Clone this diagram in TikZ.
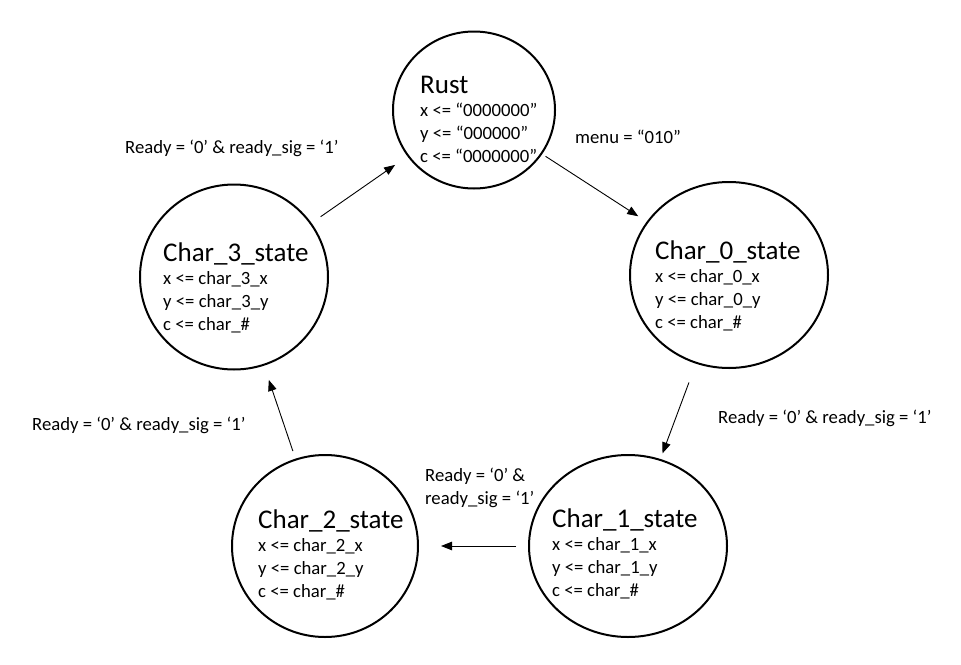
\documentclass[tikz,border=0pt]{standalone}
\usepackage{fontspec}
\setmainfont{Carlito}
\usetikzlibrary{shapes.geometric,arrows.meta}
\newcommand\sttitlefont{\fontsize{27}{30}\selectfont}
\newcommand\stdetailfont{\fontsize{18.7}{23}\selectfont}
\begin{document}
\begin{tikzpicture}[x=1pt,y=-1pt,
  state/.style={draw, line width=2pt, ellipse, inner sep=0pt},
  statetext/.style={anchor=west, align=left, inner sep=0pt, font=\stdetailfont},
  guard/.style={anchor=west, align=left, inner sep=0pt, font=\stdetailfont},
  trans/.style={draw, line width=0.9pt, -{Triangle[length=11pt,width=8.5pt]}}]
\useasboundingbox (0,0) rectangle (961,664);

% state bubbles
\node[state, minimum width=162, minimum height=157] (rust) at (474,110) {};
\node[state, minimum width=198, minimum height=186] (c0) at (729,275) {};
\node[state, minimum width=198, minimum height=182] (c1) at (628,546) {};
\node[state, minimum width=186, minimum height=182] (c2) at (325,546) {};
\node[state, minimum width=188, minimum height=185] (c3) at (234,277) {};

% state contents
\node[statetext] (rustt) at (420,119)
  {{\sttitlefont Rust}\\ x <= “0000000”\\ y <= “000000”\\ c <= “0000000”};
\node[statetext] (c0t) at (655,286)
  {{\sttitlefont Char\_0\_state}\\ x <= char\_0\_x\\ y <= char\_0\_y\\ c <= char\_\#};
\node[statetext] (c1t) at (552,554)
  {{\sttitlefont Char\_1\_state}\\ x <= char\_1\_x\\ y <= char\_1\_y\\ c <= char\_\#};
\node[statetext] (c2t) at (258,555)
  {{\sttitlefont Char\_2\_state}\\ x <= char\_2\_x\\ y <= char\_2\_y\\ c <= char\_\#};
\node[statetext] (c3t) at (163,288)
  {{\sttitlefont Char\_3\_state}\\ x <= char\_3\_x\\ y <= char\_3\_y\\ c <= char\_\#};

% transition conditions
\node[guard] (g0) at (575,137) {menu = “010”};
\node[guard] (g1) at (718,418) {Ready = ‘0’ \& ready\_sig = ‘1’};
\node[guard] (g2) at (425,488) {Ready = ‘0’ \&\\ ready\_sig = ‘1’};
\node[guard] (g3) at (32,425) {Ready = ‘0’ \& ready\_sig = ‘1’};
\node[guard] (g4) at (125,148) {Ready = ‘0’ \& ready\_sig = ‘1’};

% transitions
\draw[trans, shorten <=11pt, shorten >=15pt] (c3) -- (rust);
\draw[trans, shorten <=4pt, shorten >=10pt] (rust) -- (c0);
\draw[trans, shorten <=20pt, shorten >=6pt] (c0) -- (c1);
\draw[trans, shorten <=12pt, shorten >=22pt] (c1) -- (c2);
\draw[trans, shorten <=8pt, shorten >=15pt] (c2) -- (c3);
\end{tikzpicture}
\end{document}
